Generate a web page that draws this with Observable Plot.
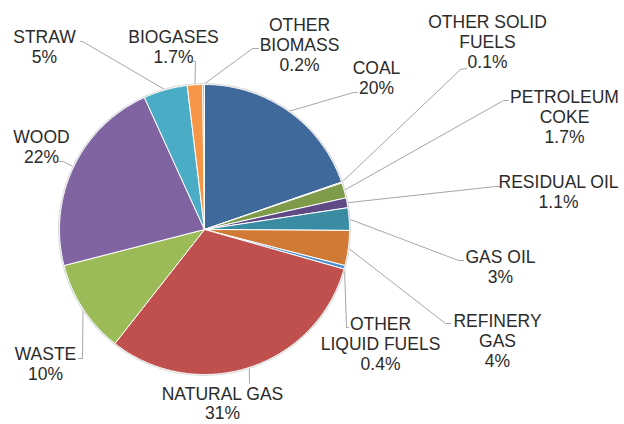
<!DOCTYPE html>
<html>
<head>
<meta charset="utf-8">
<script src="https://cdn.jsdelivr.net/npm/d3@7"></script>
<script src="https://cdn.jsdelivr.net/npm/@observablehq/plot@0.6"></script>
<style>
  html, body { margin: 0; padding: 0; background: #fff; }
  #chart svg { display: block; }
</style>
</head>
<body>
<div id="chart"></div>
<script>
// ---- data (clockwise from 12 o'clock) ----
const categories = ["COAL", "OTHER SOLID\nFUELS", "PETROLEUM\nCOKE", "RESIDUAL OIL", "GAS OIL",
  "REFINERY\nGAS", "OTHER\nLIQUID FUELS", "NATURAL GAS", "WASTE", "WOOD", "STRAW", "BIOGASES",
  "OTHER\nBIOMASS"];
const values = [19.7, 0.1, 1.7, 1.1, 2.5, 3.9, 0.4, 31.2, 10.4, 22.2, 4.9, 1.7, 0.2];
const pctLabels = ["20%", "0.1%", "1.7%", "1.1%", "3%", "4%", "0.4%", "31%", "10%", "22%", "5%", "1.7%", "0.2%"];

// ---- styles ----
const colors = ["#3F699B", "#A33E3B", "#7D9B48", "#5F4A85", "#3A8CA3", "#D07A35", "#4B8BD0",
  "#C0504D", "#9BBB59", "#8064A2", "#4BACC6", "#F79646", "#95B3D7"];

// ---- layout (pixels) ----
const W = 624, H = 424;
const CX = 204, CY = 229, R = 145;
// label block anchor (center x, cap-top y)
const labelX = [376, 487, 564, 558, 500, 497, 380, 222, 45, 41, 44, 173, 299];
const labelY = [59, 13, 88, 173, 248, 312, 315, 386, 345, 128, 28, 28, 16];
// leader knee and end points
const kneeX = [353, 460, 503, 495, 458, 445, 346, 249, 82, 63, 82, 195, 252];
const kneeY = [92, 69, 100, 186, 260, 323, 327, 383, 358, 161, 41, 61, 48];
const endX = [357, 466, 508, 499, 463, 450, 348, 249, 78, 58, 80, 193, 258];
const endY = [92, 68, 100, 186, 260, 323, 327, 383, 358, 161, 41, 61, 48];
// line spacing per label block (em)
const labelLH = [1.143, 1.143, 1.143, 1.143, 1.143, 1.143, 1.143, 1.1, 1.143, 1.143, 1.143, 1.143, 1.143];

// ---- geometry from data ----
const pie = d3.pie().sort(null).value(d => d)(values);
const slicePts = [];
const leaderPts = [];
const labels = [];
pie.forEach((p, i) => {
  const name = categories[i];
  slicePts.push({name, x: CX, y: CY, color: colors[i]});
  const n = Math.max(2, Math.ceil((p.endAngle - p.startAngle) / (Math.PI / 360)));
  for (let k = 0; k <= n; k++) {
    const a = p.startAngle + (p.endAngle - p.startAngle) * k / n;
    slicePts.push({name, x: CX + R * Math.sin(a), y: CY - R * Math.cos(a), color: colors[i]});
  }
  slicePts.push({name, x: CX, y: CY, color: colors[i]});

  const mid = (p.startAngle + p.endAngle) / 2;
  leaderPts.push({name, x: CX + R * Math.sin(mid), y: CY - R * Math.cos(mid)});
  leaderPts.push({name, x: kneeX[i], y: kneeY[i]});
  leaderPts.push({name, x: endX[i], y: endY[i]});

  labels.push({x: labelX[i], y: labelY[i], text: name + "\n" + pctLabels[i], lh: labelLH[i]});
});

const textOpts = {x: "x", y: "y", text: "text", textAnchor: "middle", lineAnchor: "top",
  fontSize: 17.5, fill: "#2b2b2b"};

const chart = Plot.plot({
  width: W,
  height: H,
  margin: 0,
  x: {domain: [0, W], axis: null},
  y: {domain: [0, H], reverse: true, axis: null},
  color: {type: "identity"},
  style: {fontFamily: "'Liberation Sans', Arial, sans-serif", background: "#fff"},
  marks: [
    Plot.line(leaderPts, {x: "x", y: "y", z: "name", stroke: "#A6A6A6", strokeWidth: 1}),
    Plot.dot([{x: CX, y: CY}], {x: "x", y: "y", r: R + 1.5, fill: "#D9D9D9", stroke: "none"}),
    Plot.line(slicePts, {x: "x", y: "y", z: "name", fill: "color", stroke: "#fff", strokeWidth: 1, strokeLinejoin: "round"}),
    Plot.text(labels.filter(d => d.lh > 1.12), {...textOpts, lineHeight: 1.143}),
    Plot.text(labels.filter(d => d.lh <= 1.12), {...textOpts, lineHeight: 1.1})
  ]
});
document.getElementById("chart").append(chart);
</script>
</body>
</html>
